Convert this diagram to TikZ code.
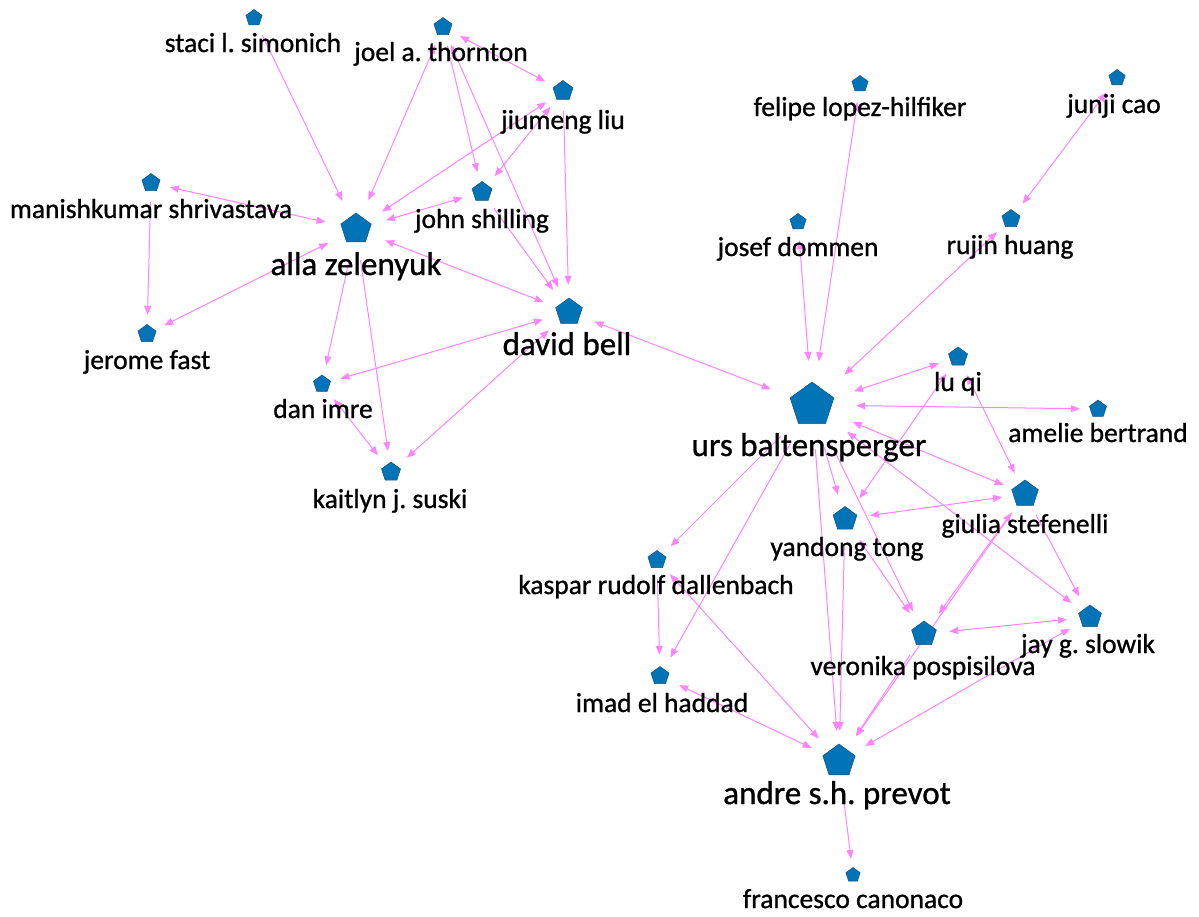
\documentclass[tikz,border=0pt]{standalone}
\usepackage{fontspec}
\setmainfont{Carlito}[FakeBold=0.9]
\frenchspacing
\usetikzlibrary{shapes.geometric,arrows.meta}
\definecolor{nodeblue}{RGB}{0,116,183}
\definecolor{nodeedge}{RGB}{20,82,130}
\definecolor{linkpink}{RGB}{255,132,255}
\pgfdeclarelayer{paper}
\pgfdeclarelayer{edges}
\pgfsetlayers{paper,edges,main}

\begin{document}
\begin{tikzpicture}[x=1pt,y=-1pt,
  pentagon/.style={regular polygon, regular polygon sides=5, inner sep=0pt,
    minimum size=#1, fill=nodeblue, draw=nodeedge, line width=0.5pt},
  % invisible circular zone (where the links stop) holding a pentagon
  vert/.style 2 args={circle, inner sep=0pt, minimum size=#2,
    path picture={\node[pentagon=#1] at (path picture bounding box.center) {};}},
  lbl/.style={font=\fontsize{27.5}{30}\selectfont, anchor=base, inner sep=0pt},
  biglbl/.style={font=\fontsize{33}{36}\selectfont, anchor=base, inner sep=0pt},
  link/.style={draw=linkpink, line width=1pt},
  fwd/.style={-{Triangle[length=9pt,width=7pt]}},
  both/.style={{Triangle[length=9pt,width=7pt]}-{Triangle[length=9pt,width=7pt]}},
]
\begin{pgfonlayer}{paper}
  \fill[white] (0,0) rectangle (1199,916);
\end{pgfonlayer}
\useasboundingbox (0,0) rectangle (1199,916);

% ---- vertices ----
\node[vert={17pt}{38pt}] (staci)    at (254,18)  {};
\node[vert={19pt}{38pt}] (joel)     at (443,27)  {};
\node[vert={21pt}{40pt}] (jiumeng)  at (563,91)  {};
\node[vert={19pt}{38pt}] (manish)   at (151,183) {};
\node[vert={21pt}{40pt}] (john)     at (482,192) {};
\node[vert={32pt}{62pt}] (alla)     at (356,229) {};
\node[vert={19pt}{38pt}] (jerome)   at (147,334) {};
\node[vert={28pt}{54pt}] (david)    at (569,312) {};
\node[vert={18pt}{38pt}] (dan)      at (322,384) {};
\node[vert={20pt}{42pt}] (kaitlyn)  at (391,472) {};
\node[vert={17pt}{36pt}] (felipe)   at (860,84)  {};
\node[vert={17pt}{36pt}] (junji)    at (1117,78) {};
\node[vert={17pt}{36pt}] (josef)    at (798,222) {};
\node[vert={19pt}{38pt}] (rujin)    at (1011,219) {};
\node[vert={46pt}{88pt}] (urs)      at (812,405) {};
\node[vert={20pt}{40pt}] (luqi)     at (958,357) {};
\node[vert={18pt}{36pt}] (amelie)   at (1098,409) {};
\node[vert={28pt}{46pt}] (giulia)   at (1025,494) {};
\node[vert={25pt}{50pt}] (yandong)  at (845,519) {};
\node[vert={19pt}{38pt}] (kaspar)   at (657,560) {};
\node[vert={24pt}{46pt}] (jay)      at (1090,617) {};
\node[vert={26pt}{50pt}] (veronika) at (924,634) {};
\node[vert={19pt}{42pt}] (imad)     at (660,676) {};
\node[vert={34pt}{60pt}] (andre)    at (839,761) {};
\node[vert={15pt}{32pt}] (francesco) at (853,875) {};

% ---- names ----
\node[lbl] (staci-l)    at (253,52)  {staci l. simonich};
\node[lbl] (joel-l)     at (441,61)  {joel a. thornton};
\node[lbl] (jiumeng-l)  at (563,129) {jiumeng liu};
\node[lbl] (manish-l)   at (151,218) {manishkumar shrivastava};
\node[lbl] (john-l)     at (482,228) {john shilling};
\node[biglbl] (alla-l)  at (356,275) {alla zelenyuk};
\node[lbl] (jerome-l)   at (147,369) {jerome fast};
\node[biglbl] (david-l) at (567,355) {david bell};
\node[lbl] (dan-l)      at (323,418) {dan imre};
\node[lbl] (kaitlyn-l)  at (390,508) {kaitlyn j. suski};
\node[lbl] (felipe-l)   at (860,116) {felipe lopez-hilfiker};
\node[lbl] (junji-l)    at (1114,113) {junji cao};
\node[lbl] (josef-l)    at (798,256) {josef dommen};
\node[lbl] (rujin-l)    at (1010,254) {rujin huang};
\node[biglbl] (urs-l)   at (809,456) {urs baltensperger};
\node[lbl] (luqi-l)     at (958,391) {lu qi};
\node[lbl] (amelie-l)   at (1098,442) {amelie bertrand};
\node[lbl] (giulia-l)   at (1025,533) {giulia stefenelli};
\node[lbl] (yandong-l)  at (847,556) {yandong tong};
\node[lbl] (kaspar-l)   at (656,594) {kaspar rudolf dallenbach};
\node[lbl] (jay-l)      at (1088,653) {jay g. slowik};
\node[lbl] (veronika-l) at (923,675) {veronika pospisilova};
\node[lbl] (imad-l)     at (662,712) {imad el haddad};
\node[biglbl] (andre-l) at (837,804) {andre s.h. prevot};
\node[lbl] (francesco-l) at (853,908) {francesco canonaco};

% ---- links ----
\begin{pgfonlayer}{edges}
\draw[link,fwd]  (staci) -- (alla);
\draw[link,both] (joel) -- (alla);
\draw[link,fwd]  (joel) -- (john);
\draw[link,both] (joel) -- (david);
\draw[link,both] (joel) -- (jiumeng);
\draw[link,both] (jiumeng) -- (alla);
\draw[link,both] (jiumeng) -- (john);
\draw[link,fwd]  (jiumeng) -- (david);
\draw[link,both] (john) -- (alla);
\draw[link,fwd]  (john) -- (david);
\draw[link,both] (manish) -- (alla);
\draw[link,fwd]  (manish) -- (jerome);
\draw[link,both] (alla) -- (jerome);
\draw[link,both] (alla) -- (david);
\draw[link,fwd]  (alla) -- (dan);
\draw[link,fwd]  (alla) -- (kaitlyn);
\draw[link,both] (david) -- (dan);
\draw[link,both] (david) -- (kaitlyn);
\draw[link,both] (dan) -- (kaitlyn);
\draw[link,both] (david) -- (urs);
\draw[link,both] (josef) -- (urs);
\draw[link,both] (felipe) -- (urs);
\draw[link,both] (rujin) -- (urs);
\draw[link,both] (junji) -- (rujin);
\draw[link,both] (luqi) -- (urs);
\draw[link,both] (amelie) -- (urs);
\draw[link,both] (urs) -- (giulia);
\draw[link,both] (urs) -- (jay);
\draw[link,fwd]  (urs) -- (yandong);
\draw[link,both] (luqi) -- (yandong);
\draw[link,both] (luqi) -- (giulia);
\draw[link,both] (yandong) -- (giulia);
\draw[link,fwd]  (urs) -- (kaspar);
\draw[link,fwd]  (urs) -- (imad);
\draw[link,fwd]  (urs) -- (andre);
\draw[link,fwd]  (yandong) -- (andre);
\draw[link,fwd]  (urs) -- (veronika);
\draw[link,both] (yandong) -- (veronika);
\draw[link,both] (giulia) -- (veronika);
\draw[link,fwd]  (giulia) -- (andre);
\draw[link,fwd]  (veronika) -- (andre);
\draw[link,fwd]  (giulia) -- (jay);
\draw[link,both] (veronika) -- (jay);
\draw[link,both] (jay) -- (andre);
\draw[link,fwd]  (kaspar) -- (imad);
\draw[link,both] (kaspar) -- (andre);
\draw[link,both] (imad) -- (andre);
\draw[link,fwd]  (andre) -- (francesco);
\end{pgfonlayer}
\end{tikzpicture}
\end{document}
